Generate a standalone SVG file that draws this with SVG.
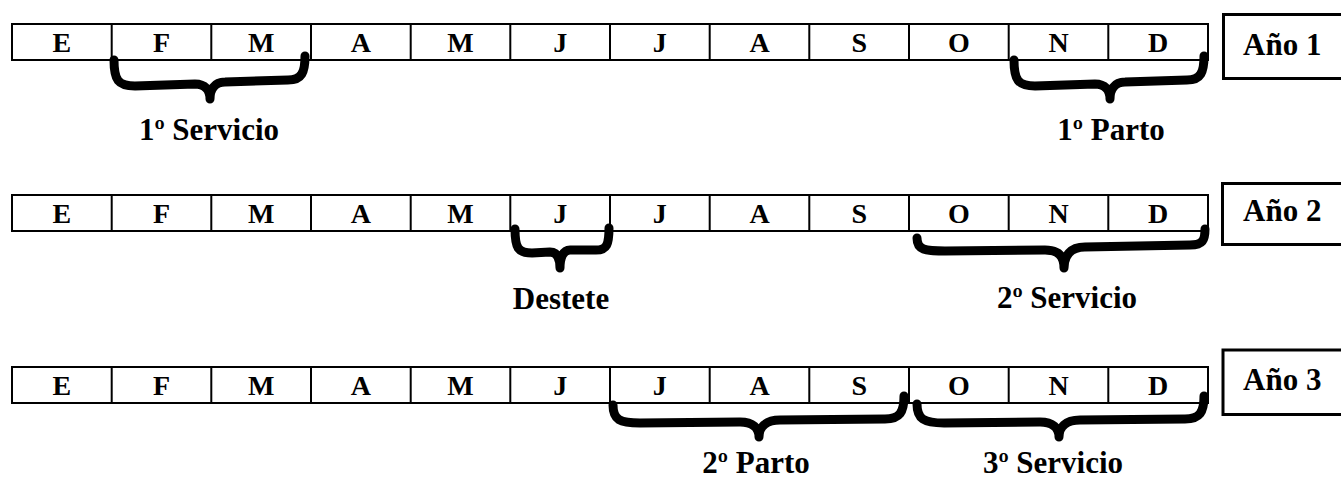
<svg xmlns="http://www.w3.org/2000/svg" width="1341" height="480" viewBox="0 0 1341 480">
<style>
.cell{fill:#fff;stroke:#000;stroke-width:2}
.div{stroke:#000;stroke-width:2}
.ybox{fill:#fff;stroke:#000;stroke-width:3}
.m{font-family:"Liberation Serif","Times New Roman",serif;font-weight:bold;font-size:28px;text-anchor:middle;fill:#000}
.y{font-family:"Liberation Serif","Times New Roman",serif;font-weight:bold;font-size:31px;fill:#000}
.lbl{font-family:"Liberation Serif","Times New Roman",serif;font-weight:bold;font-size:31px;text-anchor:middle;fill:#000}
.brace{fill:none;stroke:#000;stroke-width:9;stroke-linecap:round;stroke-linejoin:round}
</style>
<defs>
<g id="months">
<rect class="cell" x="12" y="0" width="1196" height="36"/>
<path class="div" d="M111.7,0V36M211.3,0V36M311,0V36M410.7,0V36M510.3,0V36M610,0V36M709.7,0V36M809.3,0V36M909,0V36M1008.7,0V36M1108.3,0V36"/>
<text class="m" x="61.8" y="28">E</text>
<text class="m" x="161.5" y="28">F</text>
<text class="m" x="261.2" y="28">M</text>
<text class="m" x="360.8" y="28">A</text>
<text class="m" x="460.5" y="28">M</text>
<text class="m" x="560.2" y="28">J</text>
<text class="m" x="659.8" y="28">J</text>
<text class="m" x="759.5" y="28">A</text>
<text class="m" x="859.2" y="28">S</text>
<text class="m" x="958.8" y="28">O</text>
<text class="m" x="1058.5" y="28">N</text>
<text class="m" x="1158.2" y="28">D</text>
</g>
</defs>

<g id="row1">
<use href="#months" y="24"/>
</g>
<g id="year1">
<rect class="ybox" x="1223.5" y="14.5" width="125" height="64"/>
<text class="y" x="1243" y="55">Año 1</text>
</g>

<g id="row2">
<use href="#months" y="195"/>
</g>
<g id="year2">
<rect class="ybox" x="1222.5" y="183.5" width="125" height="61"/>
<text class="y" x="1243" y="221">Año 2</text>
</g>

<g id="row3">
<use href="#months" y="367"/>
</g>
<g id="year3">
<rect class="ybox" x="1223" y="350" width="125" height="64.5"/>
<text class="y" x="1243" y="390">Año 3</text>
</g>

<g id="connectors">
<path class="brace" d="M114,60 C114,80 118,86 135,86 L195,84 C205,84 210,90 210,99 C210,90 214,82 225,82 L288,80 C302,80 305,72 305,56"/>
<path class="brace" d="M1014,60 C1014,80 1018,86 1035,86 L1095,84 C1105,84 1110,90 1110,99 C1110,90 1114,82 1125,82 L1187,80 C1201,80 1204,72 1204,56"/>
<path class="brace" d="M515,229 C515,248 518,253 532,253 L550,252 C557,252 560,258 560,268 C560,258 563,250 570,250 L596,250 C607,250 609,244 609,228"/>
<path class="brace" d="M917,238 C917,250 925,251 945,251 L1045,250 C1058,250 1064,256 1064,268 C1064,256 1070,247 1085,247 L1190,245 C1203,245 1205,240 1205,229"/>
<path class="brace" d="M613,405 C613,420 620,423 640,423 L740,422 C753,422 759,428 759,437 C759,428 765,420 780,420 L885,419 C900,419 904,412 904,396"/>
<path class="brace" d="M917,404 C917,419 924,423 944,423 L1040,422 C1053,422 1059,428 1059,437 C1059,428 1065,420 1080,420 L1185,419 C1200,419 1204,412 1204,396"/>
</g>

<g id="labels">
<text class="lbl" x="209" y="140">1º Servicio</text>
<text class="lbl" x="1111" y="140">1º Parto</text>
<text class="lbl" x="561" y="309">Destete</text>
<text class="lbl" x="1067" y="308">2º Servicio</text>
<text class="lbl" x="756" y="473">2º Parto</text>
<text class="lbl" x="1053" y="473">3º Servicio</text>
</g>
</svg>
